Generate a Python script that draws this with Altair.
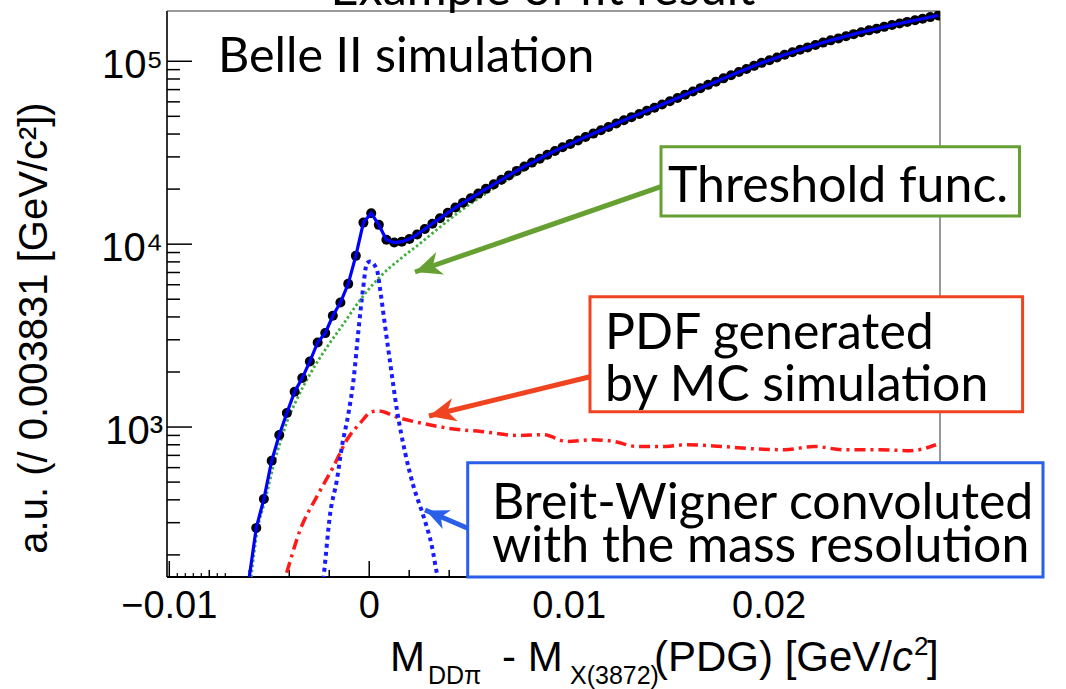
import altair as alt
import pandas as pd

# ---------------- data ----------------
pt_x = [-0.00565, -0.00527, -0.00488, -0.00450, -0.00412, -0.00373, -0.00335, -0.00297, -0.00258, -0.00220,
        -0.00182, -0.00144, -0.00105, -0.00067, -0.00029, 0.00010, 0.00048, 0.00086, 0.00125, 0.00163,
        0.00201, 0.00240, 0.00278, 0.00316, 0.00354, 0.00393, 0.00431, 0.00469, 0.00508, 0.00546,
        0.00584, 0.00623, 0.00661, 0.00699, 0.00738, 0.00776, 0.00814, 0.00853, 0.00891, 0.00929,
        0.00967, 0.01006, 0.01044, 0.01082, 0.01121, 0.01159, 0.01197, 0.01236, 0.01274, 0.01312,
        0.01351, 0.01389, 0.01427, 0.01465, 0.01504, 0.01542, 0.01580, 0.01619, 0.01657, 0.01695,
        0.01734, 0.01772, 0.01810, 0.01849, 0.01887, 0.01925, 0.01963, 0.02002, 0.02040, 0.02078,
        0.02117, 0.02155, 0.02193, 0.02232, 0.02270, 0.02308, 0.02347, 0.02385, 0.02423, 0.02461,
        0.02500, 0.02538, 0.02576, 0.02615, 0.02653, 0.02691, 0.02730, 0.02768, 0.02806, 0.02846]
pt_y = [281, 404, 654, 904, 1193, 1560, 1853, 2283, 2900, 3264,
        4058, 4796, 6067, 8630, 13120, 14770, 12750, 10560, 10200, 10320,
        10660, 11310, 12110, 12940, 13850, 14830, 15850, 16840, 17840, 18900,
        20060, 21230, 22480, 23770, 25150, 26610, 27920, 29330, 30840, 32340,
        33840, 35330, 36920, 38580, 40220, 41980, 43750, 45660, 47600, 49490,
        51520, 53580, 55700, 58000, 60440, 63020, 65690, 68390, 71290, 74300,
        77360, 80640, 83840, 87300, 90760, 94380, 98010, 101400, 104900, 108500,
        112100, 115700, 119100, 122800, 126500, 130100, 133400, 136900, 140700, 144200,
        147600, 150700, 154200, 157700, 160900, 164200, 167500, 170900, 174400, 178000]

fit_start_x = [-0.00600]
fit_start_y = [151]

thr_x = [-0.00591, -0.0056, -0.0052, -0.0048, -0.0044, -0.0041, -0.0037, -0.0029, -0.0021, -0.0013,
         -0.00045, 0.00055, 0.00155, 0.00255, 0.0035, 0.0045, 0.006, 0.008, 0.010, 0.013,
         0.016, 0.019, 0.022, 0.025, 0.0285]
thr_y = [151, 270, 400, 610, 860, 1080, 1360, 2000, 2750, 3650,
         4960, 6650, 8300, 10100, 12300, 15000, 19450, 26400, 34350, 48050,
         66150, 91100, 118850, 146750, 177200]

bw_x = [-0.0024, -0.002285, -0.00195, -0.001615, -0.001365, -0.001035, -0.000785, -0.000535, -0.000315,
        -0.000115, 0.00005, 0.000385, 0.00055, 0.00075, 0.00105, 0.001385, 0.0018, 0.002215, 0.002715,
        0.003135, 0.003385, 0.0036]
bw_y = [120, 151, 339, 515, 783, 1193, 1814, 3402, 5628,
        7876, 8034, 7236, 5628, 3858, 2237, 1243, 721, 474, 325,
        223, 159, 130]

pdf_x = [-0.0045, -0.0042, -0.00345, -0.002615, -0.001785, -0.001115, -0.00045, 0.00005, 0.0004, 0.00153,
         0.00301, 0.00412, 0.0056, 0.00745, 0.008745, 0.00985, 0.01115, 0.01226, 0.01337, 0.01485,
         0.01578, 0.01763, 0.01948, 0.02077, 0.02225, 0.02373, 0.02558, 0.02705, 0.02835]
pdf_y = [120, 151, 275, 418, 609, 852, 1052, 1200, 1225, 1120,
         1029, 979, 946, 900, 908, 834, 852, 834, 783, 783,
         800, 783, 758, 752, 783, 752, 752, 742, 800]

x_labels = [-0.01, 0, 0.01, 0.02]
y_labels = [1000, 10000, 100000]
y_minor = [200, 300, 400, 500, 600, 700, 800, 900,
           2000, 3000, 4000, 5000, 6000, 7000, 8000, 9000,
           20000, 30000, 40000, 50000, 60000, 70000, 80000, 90000]
x_mid = [-0.008, -0.006, -0.004, -0.002, 0.002, 0.004, 0.006, 0.008, 0.012, 0.014,
         0.016, 0.018, 0.022, 0.024, 0.026, 0.028]
x_fine = [-0.0096, -0.0092, -0.0088, -0.0084, -0.0076, -0.0072]

# ---------------- layout ----------------
W, H = 773, 566
AX_FONT = "Liberation Sans"
ANN_FONT = "Lato"

xscale = alt.Scale(domain=[-0.010115, 0.02855], nice=False, zero=False)
yscale = alt.Scale(type="log", domain=[151.4, 188300], nice=False)

one = pd.DataFrame({"a": [0]})


def df(xs, ys):
    return pd.DataFrame({"x": xs, "y": ys})


def X():
    return alt.X("x:Q", scale=xscale, axis=None)


def Y():
    return alt.Y("y:Q", scale=yscale, axis=None)


def txt(s, x, y, size, font=ANN_FONT, align="left", style="normal", color="black", angle=0,
        baseline="alphabetic"):
    return alt.Chart(one).mark_text(text=s, align=align, baseline=baseline, font=font,
                                    fontSize=size, fontStyle=style, color=color, angle=angle).encode(
        x=alt.value(x), y=alt.value(y))


def box(x1, x2, y1, y2, c):
    return alt.Chart(one).mark_rect(fill="white", stroke=c, strokeWidth=3).encode(
        x=alt.value(x1), x2=alt.value(x2), y=alt.value(y1), y2=alt.value(y2))


ARROW = "M0,-1L0.85,0.9L0,0.35L-0.85,0.9Z"


def arrow(x1, y1, tx, ty, cx, cy, ang, c, size):
    line = alt.Chart(one).mark_rule(color=c, strokeWidth=5).encode(
        x=alt.value(x1), y=alt.value(y1), x2=alt.value(tx), y2=alt.value(ty))
    head = alt.Chart(one).mark_point(shape=ARROW, filled=True, opacity=1, size=size, angle=ang,
                                     color=c).encode(x=alt.value(cx), y=alt.value(cy))
    return [line, head]


# frame
frame = [
    alt.Chart(one).mark_rule(color="#777777", strokeWidth=1.5).encode(
        x=alt.value(0), x2=alt.value(W), y=alt.value(0)),
    alt.Chart(one).mark_rule(color="#777777", strokeWidth=1.5).encode(
        x=alt.value(W), y=alt.value(0), y2=alt.value(H)),
    alt.Chart(one).mark_rule(color="#333333", strokeWidth=2).encode(
        x=alt.value(0), y=alt.value(0), y2=alt.value(H)),
    alt.Chart(one).mark_rule(color="black", strokeWidth=2).encode(
        x=alt.value(0), x2=alt.value(W), y=alt.value(H)),
]

# inward ticks
ticks = [
    alt.Chart(pd.DataFrame({"y": y_labels})).mark_rule(color="black", strokeWidth=1.5).encode(
        y=Y(), x=alt.value(0), x2=alt.value(25)),
    alt.Chart(pd.DataFrame({"y": y_minor})).mark_rule(color="black", strokeWidth=1.5).encode(
        y=Y(), x=alt.value(0), x2=alt.value(13)),
    alt.Chart(pd.DataFrame({"x": x_labels})).mark_rule(color="black", strokeWidth=1.5).encode(
        x=X(), y=alt.value(H), y2=alt.value(H - 16)),
    alt.Chart(pd.DataFrame({"x": x_mid})).mark_rule(color="black", strokeWidth=1.5).encode(
        x=X(), y=alt.value(H), y2=alt.value(H - 7)),
    alt.Chart(pd.DataFrame({"x": x_fine})).mark_rule(color="black", strokeWidth=1.2).encode(
        x=X(), y=alt.value(H), y2=alt.value(H - 4)),
]

# tick labels drawn through the scales
x_tick_labels = alt.Chart(pd.DataFrame({"x": x_labels})).transform_calculate(
    lab="datum.x < 0 ? '\u2212' + format(-datum.x, '.2f') : (datum.x == 0 ? '0' : format(datum.x, '.2f'))"
).mark_text(font=AX_FONT, fontSize=38, color="black", align="center", baseline="top").encode(
    x=X(), y=alt.value(H + 11), text="lab:N")
y_tick_labels = alt.Chart(pd.DataFrame({"y": y_labels})).transform_calculate(
    lab="'10' + (datum.y > 50000 ? '\u2075' : (datum.y > 5000 ? '\u2074' : '\u00b3'))"
).mark_text(font=AX_FONT, fontSize=40, color="black", align="right", baseline="middle", dy=5).encode(
    y=Y(), x=alt.value(-4), text="lab:N")

pdf_line = alt.Chart(df(pdf_x, pdf_y)).mark_line(
    color="#ff1a1a", strokeWidth=3.5, strokeDash=[11, 5, 3, 5], clip=True, interpolate="monotone").encode(
    x=X(), y=Y(), order="x:Q")
bw_line = alt.Chart(df(bw_x, bw_y)).mark_line(
    color="#1a1aff", strokeWidth=4, strokeDash=[4, 4], clip=True, interpolate="monotone").encode(
    x=X(), y=Y(), order="x:Q")
thr_line = alt.Chart(df(thr_x, thr_y)).mark_line(
    color="#3fae3f", strokeWidth=2.8, strokeDash=[2.5, 2.5], clip=True, interpolate="monotone").encode(
    x=X(), y=Y(), order="x:Q")
points = alt.Chart(df(pt_x, pt_y)).mark_circle(color="black", size=100, opacity=1, clip=True).encode(
    x=X(), y=Y())
fit_line = alt.Chart(df(fit_start_x + pt_x, fit_start_y + pt_y)).mark_line(
    color="#0000ff", strokeWidth=3.2, clip=True).encode(x=X(), y=Y(), order="x:Q")

GREEN, RED, BLUE = "#66a032", "#f0431f", "#2a5fe8"
FS = 50

annotations = []
annotations += arrow(494, 175.7, 248, 261, 261.2, 256.4, 250.9, GREEN, 784)
annotations += arrow(423, 365.7, 262, 405, 275.6, 401.7, 256.3, RED, 784)
annotations += arrow(300.7, 517.3, 258, 499, 269.9, 504.2, 293.7, BLUE, 576)
annotations += [
    box(494, 852.5, 135.7, 205, GREEN),
    box(423, 855.6, 285.7, 400.7, RED),
    box(300.7, 876, 451.7, 566, BLUE),
    txt("Threshold func.", 501, 191, FS),
    txt("PDF generated", 438, 337.5, FS),
    txt("by MC simulation", 438, 389.5, FS),
    txt("Breit-Wigner convoluted", 325, 507.5, FS),
    txt("with the mass resolution", 325, 551, FS),
    txt("Belle II simulation", 51, 61, 48.5),
    txt("Example of fit result", 376, -6, 48.5, align="center"),
    # y-axis title
    txt("a.u. (/ 0.003831 [GeV/c\u00b2])", -132, 317, 40, font=AX_FONT, align="center",
        angle=270, baseline="middle"),
    # x-axis title with sub/superscripts
    txt("M", 223, 660, 42, font=AX_FONT),
    txt("DD\u03c0", 261, 673, 25, font=AX_FONT),
    txt("- M", 335, 660, 42, font=AX_FONT),
    txt("X(3872)", 403, 673, 25, font=AX_FONT),
    txt("(PDG) [GeV/", 487, 660, 42, font=AX_FONT),
    txt("c", 725, 660, 42, font=AX_FONT, style="italic"),
    txt("2", 747, 644, 26, font=AX_FONT),
    txt("]", 760, 660, 42, font=AX_FONT),
]

chart = alt.layer(
    *frame, *ticks, pdf_line, bw_line, thr_line, points, fit_line,
    x_tick_labels, y_tick_labels, *annotations
).properties(
    width=W, height=H,
    padding={"left": 167, "top": 11, "right": 126, "bottom": 112},
    autosize=alt.AutoSizeParams(type="none"),
    background="white",
).configure_view(strokeWidth=0)

chart.save("out.html", embed_options={"renderer": "svg", "actions": False})
